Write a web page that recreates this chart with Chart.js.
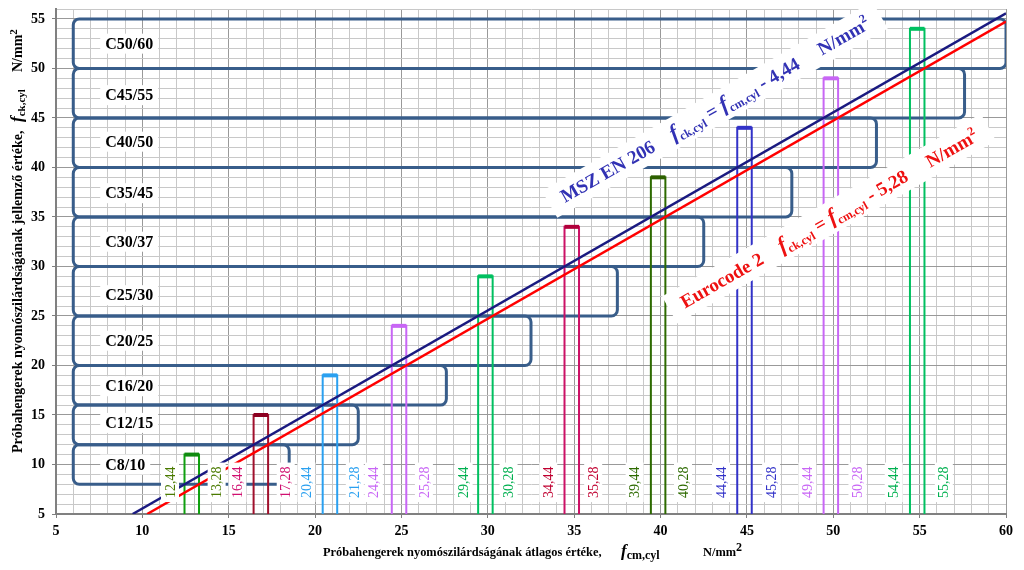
<!DOCTYPE html>
<html><head><meta charset="utf-8">
<script src="https://cdn.jsdelivr.net/npm/chart.js@4.4.1/dist/chart.umd.min.js"></script>
<style>html,body{margin:0;padding:0;background:#fff;}canvas{display:block}</style>
</head><body>
<canvas id="c" width="1024" height="570"></canvas>
<script>
// ---- data ----
const classNames = ['C8/10','C12/15','C16/20','C20/25','C25/30','C30/37','C35/45','C40/50','C45/55','C50/60'];
const classLow   = [8, 12, 16, 20, 25, 30, 35, 40, 45, 50];
const classHigh  = [12, 16, 20, 25, 30, 35, 40, 45, 50, 55];
const classBoxRight = [18.5, 22.5, 27.6, 32.5, 37.5, 42.5, 47.6, 52.5, 57.6, 60];
const classBoxLeft = 6;
const classLabelX = 7.85;
const classLabelY = [10.0, 14.2, 17.9, 22.5, 27.1, 32.5, 37.4, 42.6, 47.3, 52.5];

const fcmLow  = [12.44, 16.44, 20.44, 24.44, 29.44, 34.44, 39.44, 44.44, 49.44, 54.44];
const fcmHigh = [13.28, 17.28, 21.28, 25.28, 30.28, 35.28, 40.28, 45.28, 50.28, 55.28];
const barTop  = [11, 15, 19, 24, 29, 34, 39, 44, 49, 54];
const lowLabelX  = [11.6, 15.5, 19.5, 23.4, 28.6, 33.5, 38.5, 43.5, 48.5, 53.5];
const highLabelX = [14.3, 18.3, 22.3, 26.3, 31.2, 36.1, 41.3, 46.4, 51.4, 56.4];
const valueLabelY = 8.2;

const mszLineX = [9.44, 60];
const mszLineY = [5, 55.56];
const ecLineX  = [10.28, 60];
const ecLineY  = [5, 54.72];

const xTicks = [5, 10, 15, 20, 25, 30, 35, 40, 45, 50, 55, 60];
const yTicks = [5, 10, 15, 20, 25, 30, 35, 40, 45, 50, 55];

// ---- styles ----
const barColors   = ['#10a010','#a0102c','#2aa0f0','#c866f5','#00c060','#cc1166','#2d6a00','#3232c8','#c866f5','#00c060'];
const capColors   = ['#108a10','#8c0020','#2aa0f0','#c866f5','#00c060','#b0003a','#2d6000','#3232c8','#c866f5','#00c060'];
const labelColors = ['#4a7a00','#d01070','#2aa0f0','#c866f5','#00b050','#c00030','#2d6a00','#3232c8','#c866f5','#00b050'];
const SERIF = '"Liberation Serif","Times New Roman",serif';

Chart.defaults.font.family = SERIF;

const datasets = [];
datasets.push({data: mszLineX.map((x,i)=>({x, y: mszLineY[i]})), borderColor:'#1a1a80', borderWidth:2.5, showLine:true, pointRadius:0});
datasets.push({data: ecLineX.map((x,i)=>({x, y: ecLineY[i]})), borderColor:'#ff0000', borderWidth:2.5, showLine:true, pointRadius:0});
fcmLow.forEach((lo,i)=>{
  const hi = fcmHigh[i], top = barTop[i];
  datasets.push({data:[{x:lo,y:top},{x:hi,y:top}], borderColor:capColors[i], borderWidth:4, showLine:true, pointRadius:0, borderCapStyle:'butt'});
  datasets.push({data:[{x:lo,y:5},{x:lo,y:top},{x:hi,y:top},{x:hi,y:5}], borderColor:barColors[i], borderWidth:2, showLine:true, pointRadius:0});
});

function isMajor(v){ return Math.abs(v % 5) < 1e-9; }

function drawRich(ctx, segs, x, y, angle, pad) {
  ctx.save();
  ctx.translate(x, y); ctx.rotate(angle);
  let w = 0;
  for (const s of segs) {
    if (s.at !== undefined) { w = s.at; continue; }
    if (s.gap) { w += s.gap; continue; }
    ctx.font = s.font; w += ctx.measureText(s.text).width;
  }
  if (pad) { ctx.fillStyle = '#fff'; ctx.fillRect(-pad[0], -pad[1], w + pad[0] + pad[2], pad[1] + pad[3]); }
  ctx.textAlign = 'left'; ctx.textBaseline = 'alphabetic';
  let cx = 0;
  for (const s of segs) {
    if (s.at !== undefined) { cx = s.at; continue; }
    if (s.gap) { cx += s.gap; continue; }
    ctx.font = s.font; ctx.fillStyle = s.color;
    ctx.fillText(s.text, cx, s.dy || 0);
    cx += ctx.measureText(s.text).width;
  }
  ctx.restore();
}

const boxesPlugin = {
  id: 'boxes',
  beforeDatasetsDraw(chart) {
    const {ctx, scales:{x, y}, chartArea} = chart;
    ctx.save();
    ctx.beginPath(); ctx.rect(chartArea.left, chartArea.top, chartArea.right-chartArea.left, chartArea.bottom-chartArea.top); ctx.clip();
    ctx.strokeStyle = '#385d8a'; ctx.lineWidth = 3;
    classLow.forEach((lo,i)=>{
      const x0 = x.getPixelForValue(classBoxLeft), x1 = x.getPixelForValue(classBoxRight[i]);
      const y0 = y.getPixelForValue(classHigh[i]), y1 = y.getPixelForValue(lo);
      ctx.beginPath(); ctx.roundRect(x0, y0, x1-x0, y1-y0, 6); ctx.stroke();
    });
    ctx.restore();
  },
  afterDatasetsDraw(chart) {
    const {ctx, scales:{x, y}} = chart;
    ctx.save();
    // class labels
    ctx.font = 'bold 16px ' + SERIF;
    ctx.textBaseline = 'middle'; ctx.textAlign = 'left';
    classNames.forEach((t,i)=>{
      const px = x.getPixelForValue(classLabelX), py = y.getPixelForValue(classLabelY[i]);
      const w = ctx.measureText(t).width;
      ctx.fillStyle = '#fff'; ctx.fillRect(px-5, py-10, w+10, 20);
      ctx.fillStyle = '#000'; ctx.fillText(t, px, py+1);
    });
    // value labels (rotated)
    ctx.font = '14px ' + SERIF;
    const drawVal = (val, vx, col) => {
      const t = val.toFixed(2).replace('.', ',');
      const px = x.getPixelForValue(vx), py = y.getPixelForValue(valueLabelY);
      ctx.save(); ctx.translate(px, py); ctx.rotate(-Math.PI/2);
      const w = ctx.measureText(t).width;
      ctx.fillStyle = '#fff'; ctx.fillRect(-w/2-4, -9, w+8, 18);
      ctx.fillStyle = col; ctx.textAlign = 'center'; ctx.textBaseline = 'middle';
      ctx.fillText(t, 0, 1);
      ctx.restore();
    };
    fcmLow.forEach((v,i)=> drawVal(v, lowLabelX[i], labelColors[i]));
    fcmHigh.forEach((v,i)=> drawVal(v, highLabelX[i], labelColors[i]));
    // annotations parallel to the lines
    const ang = Math.atan2(y.getPixelForValue(55) - y.getPixelForValue(5), x.getPixelForValue(55) - x.getPixelForValue(5));
    const B = 'bold 19px ' + SERIF, F = 'italic bold 22px ' + SERIF, S = 'bold 12px ' + SERIF;
    const mk = (lab, num, col) => [
      {text: lab, font: B, color: col}, {gap: 20},
      {text: 'f', font: F, color: col}, {text: 'ck,cyl', font: S, color: col, dy: 4},
      {text: ' = ', font: B, color: col},
      {text: 'f', font: F, color: col}, {text: 'cm,cyl', font: S, color: col, dy: 4},
      {text: ' - ' + num, font: B, color: col}, {gap: 24},
      {text: 'N/mm', font: B, color: col}, {text: '2', font: S, color: col, dy: -8}
    ];
    drawRich(ctx, mk('MSZ EN 206', '4,44', '#3232b4'), x.getPixelForValue(34.47), y.getPixelForValue(36.4), ang, [14, 22, 14, 9]);
    drawRich(ctx, mk('Eurocode 2', '5,28', '#ee1111'), x.getPixelForValue(41.42), y.getPixelForValue(25.74), ang, [14, 22, 14, 9]);
    ctx.restore();
  },
  afterDraw(chart) {
    const {ctx} = chart;
    const T = 'bold 12.4px ' + SERIF, F = 'italic bold 17px ' + SERIF, S = 'bold 12px ' + SERIF;
    drawRich(ctx, [
      {text: 'Próbahengerek nyomószilárdságának átlagos értéke,', font: T, color:'#000'},
      {at: 298},
      {text: 'f', font: F, color:'#000'}, {text: 'cm,cyl', font: S, color:'#000', dy: 3},
      {at: 380},
      {text: 'N/mm', font: T, color:'#000'}, {text: '2', font: S, color:'#000', dy: -5}
    ], 323, 556, 0, null);
    const T2 = 'bold 14px ' + SERIF, S2 = 'bold 11px ' + SERIF;
    drawRich(ctx, [
      {text: 'Próbahengerek nyomószilárdságának jellemző értéke,', font: T2, color:'#000'},
      {at: 331},
      {text: 'f', font: F, color:'#000'}, {text: 'ck,cyl', font: S2, color:'#000', dy: 3},
      {at: 381},
      {text: 'N/mm', font: T2, color:'#000'}, {text: '2', font: S2, color:'#000', dy: -5}
    ], 22, 453, -Math.PI/2, null);
  }
};

new Chart(document.getElementById('c'), {
  type: 'scatter',
  data: { datasets },
  options: {
    responsive: false, animation: false, devicePixelRatio: 1,
    layout: { padding: { left: 0, top: 9, right: 18, bottom: 0 } },
    plugins: { legend: { display: false }, tooltip: { enabled: false } },
    elements: { line: { tension: 0 } },
    scales: {
      x: {
        type: 'linear', min: 5, max: 60,
        afterFit: s => { s.height = 56; s.paddingLeft = 0; s.paddingRight = 0; },
        border: { color: '#808080', width: 2 },
        grid: { color: c => isMajor(c.tick.value) ? '#999999' : '#c8c8c8', lineWidth: 1, tickLength: 4,
                tickColor: c => isMajor(c.tick.value) ? '#808080' : 'rgba(0,0,0,0)' },
        ticks: { stepSize: 1, autoSkip: false, maxRotation: 0, padding: 5, color: '#000',
                 font: { size: 14, weight: 'bold' },
                 callback: v => xTicks.includes(v) ? String(v) : '' }
      },
      y: {
        type: 'linear', min: 5, max: 56,
        afterFit: s => { s.width = 56; s.paddingTop = 0; s.paddingBottom = 0; },
        border: { color: '#808080', width: 2 },
        grid: { color: c => isMajor(c.tick.value) ? '#999999' : '#c8c8c8', lineWidth: 1, tickLength: 4,
                tickColor: c => isMajor(c.tick.value) ? '#808080' : 'rgba(0,0,0,0)' },
        ticks: { stepSize: 1, autoSkip: false, padding: 7, color: '#000',
                 font: { size: 14, weight: 'bold' },
                 callback: v => yTicks.includes(v) ? String(v) : '' }
      }
    }
  },
  plugins: [boxesPlugin]
});
</script>
</body></html>
